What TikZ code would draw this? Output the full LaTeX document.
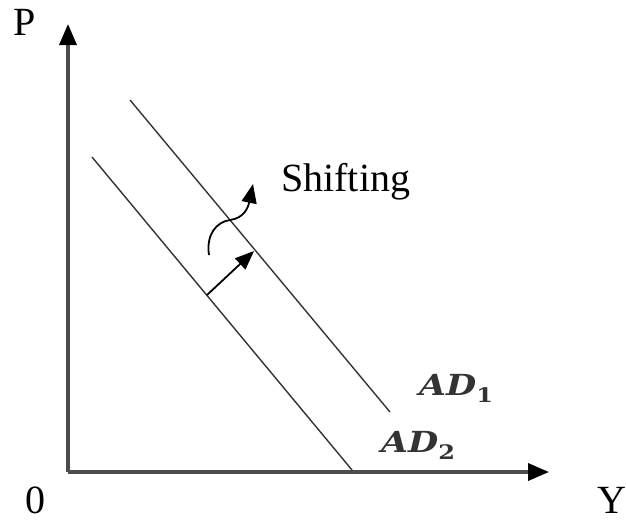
\documentclass[tikz,border=0pt]{standalone}
\usepackage{fontspec}
\setmainfont{Liberation Serif}
\newfontfamily\adfont[FakeStretch=1.2]{DejaVu Serif}
\usetikzlibrary{arrows.meta}
\begin{document}
\begin{tikzpicture}[x=1pt,y=-1pt,
  axis/.style={line width=3.6pt,draw=black!70,-{Triangle[length=21pt,width=17pt,color=black,fill=black]}},
  curve/.style={line width=1.4pt,draw=black!80},
  shiftarrow/.style={line width=1.8pt,-{Triangle[length=19pt,width=15pt]}},
  lbl/.style={font=\fontsize{40}{46}\selectfont,inner sep=0pt},
  adlbl/.style={font=\adfont\fontsize{29}{33}\selectfont\bfseries\itshape,text=black!80,inner sep=0pt,anchor=base west}]
\useasboundingbox (0,0) rectangle (626,522);
\coordinate (O) at (68,472);
\coordinate (Ytop) at (68,24);
\coordinate (Xend) at (549,472);
\draw[axis] (O) -- (Ytop);
\draw[axis] (O) -- (Xend);
\coordinate (a1s) at (130,100);
\coordinate (a1e) at (390,412);
\coordinate (a2s) at (92,157);
\coordinate (a2e) at (352,470);
\draw[curve] (a1s) -- (a1e);
\draw[curve] (a2s) -- (a2e);
\coordinate (sa) at (207,295);
\coordinate (sb) at (254,251);
\draw[shiftarrow] (sa) -- (sb);
\coordinate (ca) at (209,255);
\coordinate (cm) at (230,220);
\coordinate (cb) at (253,184);
\draw[shiftarrow] (ca) .. controls (206,235) and (216,222) .. (cm) .. controls (244,218) and (248,208) .. (cb);
\node[lbl] (P) at (25,22) {P};
\node[lbl] (zero) at (35,500) {0};
\node[lbl] (Y) at (612,500) {Y};
\node[lbl,anchor=west] (shift) at (281,182) {Shifting};
\node[adlbl] (AD1) at (419,395) {AD\raisebox{-7pt}{\upshape\fontsize{20}{22}\selectfont 1}};
\node[adlbl] (AD2) at (381,452) {AD\raisebox{-7pt}{\upshape\fontsize{20}{22}\selectfont 2}};
\end{tikzpicture}
\end{document}
